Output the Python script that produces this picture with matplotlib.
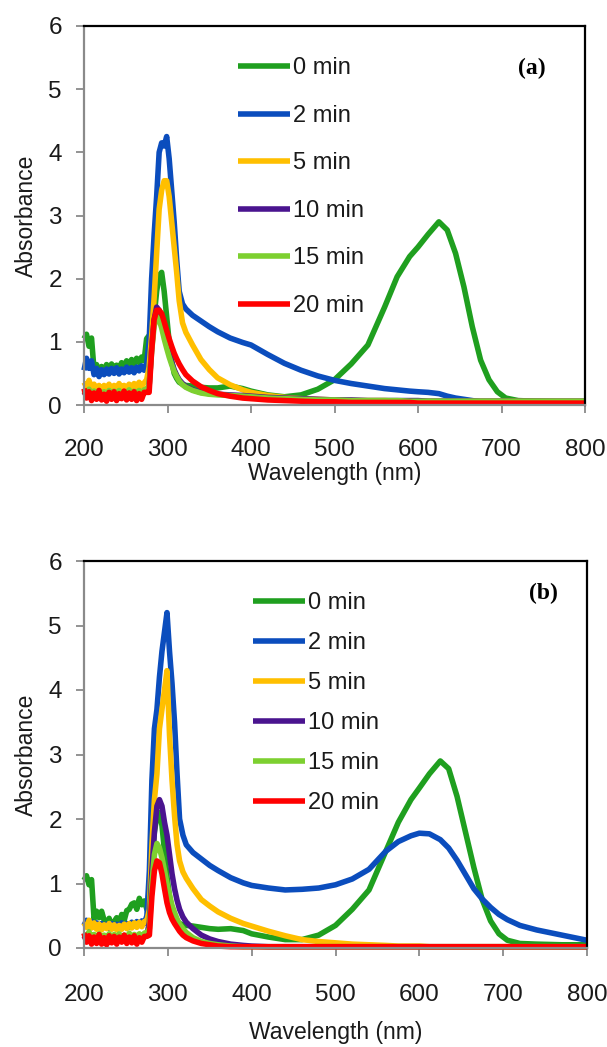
import matplotlib
matplotlib.use("Agg")
import matplotlib.pyplot as plt

# ---------------- data ----------------
wavelength = [200, 203, 206, 209, 212, 215, 218, 221, 224, 227, 230, 233, 236, 239, 242, 245,
              248, 251, 254, 257, 260, 263, 266, 269, 272, 275,
              278, 281, 284, 287, 290, 293, 296, 299, 302, 305, 308, 311, 314, 318, 322,
              330, 340, 350, 360, 375, 390, 400, 420, 440, 460, 480, 500, 520, 540, 560,
              575, 590, 600, 612, 625, 635, 645, 655, 665, 675, 685, 695, 705, 720, 740, 770, 800]

labels = ["0 min", "2 min", "5 min", "10 min", "15 min", "20 min"]
colors = ["#1f9f1f", "#0b4dbd", "#ffbf00", "#4a148f", "#7dd030", "#ff0000"]

# panel (a)
a_0min = [1.05, 1.12, 0.93, 1.06, 0.56, 0.64, 0.50, 0.61, 0.53, 0.64, 0.55, 0.65, 0.56, 0.63, 0.58, 0.67,
          0.61, 0.70, 0.62, 0.72, 0.65, 0.74, 0.67, 0.76, 0.70, 1.05,
          1.10, 1.15, 1.40, 1.80, 2.05, 2.10, 1.80, 1.40, 1.00, 0.70, 0.50, 0.42, 0.36, 0.33, 0.31,
          0.30, 0.28, 0.27, 0.27, 0.30, 0.26, 0.22, 0.16, 0.13, 0.16, 0.25, 0.40, 0.65, 0.95, 1.55,
          2.03, 2.35, 2.50, 2.70, 2.90, 2.77, 2.40, 1.87, 1.24, 0.71, 0.40, 0.21, 0.11, 0.07, 0.06, 0.05, 0.05]
a_2min = [0.55, 0.74, 0.58, 0.70, 0.48, 0.58, 0.45, 0.56, 0.48, 0.57, 0.49, 0.58, 0.50, 0.59, 0.49, 0.57,
          0.51, 0.60, 0.52, 0.59, 0.51, 0.60, 0.54, 0.62, 0.55, 0.65,
          1.00, 2.00, 2.70, 3.30, 4.00, 4.15, 4.10, 4.25, 3.90, 3.40, 2.90, 2.30, 1.80, 1.60, 1.52,
          1.42, 1.33, 1.24, 1.16, 1.06, 0.99, 0.95, 0.80, 0.66, 0.55, 0.46, 0.39, 0.34, 0.30, 0.26,
          0.24, 0.22, 0.21, 0.20, 0.18, 0.14, 0.11, 0.09, 0.07, 0.05, 0.04, 0.04, 0.03, 0.03, 0.03, 0.03, 0.03]
a_5min = [0.36, 0.29, 0.39, 0.27, 0.33, 0.24, 0.31, 0.23, 0.31, 0.25, 0.33, 0.24, 0.31, 0.26, 0.34, 0.27,
          0.31, 0.25, 0.33, 0.27, 0.34, 0.29, 0.36, 0.29, 0.35, 0.40,
          0.60, 1.10, 1.70, 2.40, 3.10, 3.40, 3.55, 3.55, 3.30, 2.90, 2.50, 2.10, 1.65, 1.30, 1.15,
          0.95, 0.72, 0.56, 0.43, 0.32, 0.24, 0.20, 0.15, 0.12, 0.10, 0.09, 0.08, 0.07, 0.07, 0.07,
          0.06, 0.06, 0.06, 0.06, 0.06, 0.06, 0.06, 0.06, 0.06, 0.06, 0.06, 0.06, 0.06, 0.06, 0.06, 0.06, 0.06]
a_10min = [0.21, 0.15, 0.23, 0.14, 0.20, 0.13, 0.21, 0.14, 0.19, 0.12, 0.21, 0.15, 0.20, 0.13, 0.21, 0.14,
           0.19, 0.15, 0.22, 0.14, 0.20, 0.16, 0.21, 0.15, 0.22, 0.22,
           0.30, 0.90, 1.35, 1.55, 1.50, 1.35, 1.15, 0.98, 0.82, 0.68, 0.56, 0.47, 0.40, 0.34, 0.29,
           0.24, 0.20, 0.18, 0.17, 0.16, 0.15, 0.14, 0.12, 0.11, 0.10, 0.09, 0.08, 0.08, 0.07, 0.07,
           0.07, 0.07, 0.07, 0.06, 0.06, 0.06, 0.06, 0.06, 0.06, 0.06, 0.06, 0.06, 0.06, 0.06, 0.06, 0.06, 0.06]
a_15min = [0.23, 0.17, 0.25, 0.16, 0.22, 0.15, 0.23, 0.16, 0.21, 0.14, 0.23, 0.17, 0.22, 0.15, 0.23, 0.16,
           0.21, 0.17, 0.24, 0.16, 0.22, 0.18, 0.23, 0.17, 0.24, 0.25,
           0.30, 0.85, 1.25, 1.40, 1.35, 1.22, 1.05, 0.90, 0.76, 0.64, 0.53, 0.45, 0.38, 0.32, 0.28,
           0.23, 0.19, 0.17, 0.16, 0.15, 0.14, 0.13, 0.11, 0.10, 0.09, 0.08, 0.08, 0.07, 0.07, 0.07,
           0.07, 0.06, 0.06, 0.06, 0.06, 0.06, 0.06, 0.06, 0.06, 0.06, 0.06, 0.06, 0.06, 0.06, 0.06, 0.06, 0.06]
a_20min = [0.26, 0.11, 0.21, 0.07, 0.19, 0.09, 0.23, 0.08, 0.17, 0.06, 0.20, 0.09, 0.21, 0.07, 0.18, 0.10,
           0.22, 0.08, 0.19, 0.09, 0.21, 0.07, 0.18, 0.09, 0.20, 0.20,
           0.20, 0.85, 1.35, 1.50, 1.50, 1.45, 1.32, 1.18, 1.05, 0.93, 0.82, 0.73, 0.65, 0.56, 0.48,
           0.38, 0.29, 0.23, 0.18, 0.14, 0.11, 0.10, 0.08, 0.07, 0.06, 0.05, 0.05, 0.04, 0.04, 0.04,
           0.04, 0.04, 0.03, 0.03, 0.03, 0.03, 0.03, 0.03, 0.03, 0.03, 0.03, 0.03, 0.03, 0.03, 0.03, 0.03, 0.03]

# panel (b)
b_0min = [1.05, 1.12, 0.98, 1.06, 0.45, 0.57, 0.47, 0.57, 0.43, 0.38, 0.46, 0.32, 0.41, 0.47, 0.37, 0.52,
          0.43, 0.58, 0.60, 0.68, 0.70, 0.60, 0.77, 0.67, 0.73, 0.60,
          0.90, 1.40, 1.80, 2.05, 2.10, 1.90, 1.50, 1.10, 0.80, 0.60, 0.48, 0.42, 0.38, 0.36, 0.35,
          0.34, 0.32, 0.30, 0.29, 0.30, 0.27, 0.22, 0.17, 0.13, 0.13, 0.20, 0.35, 0.60, 0.90, 1.50,
          1.95, 2.30, 2.48, 2.70, 2.90, 2.78, 2.35, 1.80, 1.25, 0.75, 0.42, 0.22, 0.12, 0.07, 0.06, 0.05, 0.05]
b_2min = [0.35, 0.43, 0.32, 0.41, 0.33, 0.39, 0.31, 0.38, 0.32, 0.37, 0.30, 0.38, 0.32, 0.37, 0.31, 0.39,
          0.33, 0.38, 0.32, 0.40, 0.34, 0.41, 0.35, 0.42, 0.38, 0.50,
          1.20, 2.60, 3.40, 3.70, 4.20, 4.60, 4.90, 5.20, 4.60, 4.10, 3.50, 2.70, 2.00, 1.75, 1.60,
          1.48, 1.38, 1.28, 1.20, 1.09, 1.01, 0.97, 0.93, 0.90, 0.91, 0.93, 0.98, 1.07, 1.22, 1.50,
          1.65, 1.74, 1.78, 1.77, 1.68, 1.55, 1.36, 1.14, 0.92, 0.76, 0.63, 0.52, 0.44, 0.35, 0.28, 0.20, 0.12]
b_5min = [0.39, 0.32, 0.43, 0.31, 0.39, 0.29, 0.37, 0.28, 0.36, 0.30, 0.38, 0.29, 0.36, 0.28, 0.35, 0.29,
          0.37, 0.30, 0.38, 0.31, 0.39, 0.32, 0.40, 0.33, 0.41, 0.42,
          0.60, 1.60, 2.30, 2.70, 3.40, 3.70, 4.00, 4.30, 3.30, 2.60, 2.05, 1.60, 1.35, 1.18, 1.08,
          0.92, 0.75, 0.65, 0.56, 0.46, 0.38, 0.34, 0.26, 0.19, 0.13, 0.10, 0.08, 0.06, 0.05, 0.04,
          0.03, 0.03, 0.03, 0.02, 0.02, 0.02, 0.02, 0.02, 0.02, 0.02, 0.02, 0.02, 0.02, 0.02, 0.02, 0.02, 0.02]
b_10min = [0.19, 0.12, 0.21, 0.11, 0.17, 0.10, 0.18, 0.11, 0.16, 0.09, 0.18, 0.11, 0.17, 0.10, 0.18, 0.11,
           0.17, 0.12, 0.19, 0.11, 0.18, 0.13, 0.19, 0.12, 0.20, 0.20,
           0.40, 1.20, 1.80, 2.20, 2.30, 2.20, 1.95, 1.75, 1.45, 1.15, 0.92, 0.74, 0.60, 0.48, 0.40,
           0.30, 0.20, 0.14, 0.10, 0.06, 0.04, 0.03, 0.02, 0.02, 0.02, 0.02, 0.02, 0.02, 0.02, 0.02,
           0.02, 0.02, 0.02, 0.02, 0.02, 0.02, 0.02, 0.02, 0.02, 0.02, 0.02, 0.02, 0.02, 0.02, 0.02, 0.02, 0.02]
b_15min = [0.23, 0.16, 0.25, 0.15, 0.21, 0.14, 0.22, 0.15, 0.20, 0.13, 0.22, 0.16, 0.21, 0.14, 0.22, 0.15,
           0.20, 0.16, 0.23, 0.15, 0.21, 0.17, 0.22, 0.16, 0.23, 0.24,
           0.30, 1.00, 1.45, 1.62, 1.55, 1.40, 1.20, 1.00, 0.82, 0.66, 0.55, 0.45, 0.37, 0.30, 0.24,
           0.16, 0.10, 0.07, 0.05, 0.03, 0.02, 0.02, 0.02, 0.02, 0.02, 0.02, 0.02, 0.02, 0.02, 0.02,
           0.02, 0.02, 0.02, 0.02, 0.02, 0.02, 0.02, 0.02, 0.02, 0.02, 0.02, 0.02, 0.02, 0.02, 0.02, 0.02, 0.02]
b_20min = [0.23, 0.09, 0.19, 0.06, 0.17, 0.07, 0.21, 0.06, 0.16, 0.05, 0.19, 0.08, 0.18, 0.06, 0.17, 0.09,
           0.20, 0.07, 0.17, 0.08, 0.19, 0.06, 0.16, 0.09, 0.18, 0.18,
           0.20, 0.80, 1.20, 1.35, 1.32, 1.15, 0.92, 0.70, 0.55, 0.45, 0.38, 0.32, 0.26, 0.20, 0.16,
           0.11, 0.07, 0.05, 0.03, 0.02, 0.02, 0.02, 0.02, 0.02, 0.02, 0.02, 0.02, 0.02, 0.02, 0.02,
           0.02, 0.02, 0.02, 0.02, 0.02, 0.02, 0.02, 0.02, 0.02, 0.02, 0.02, 0.02, 0.02, 0.02, 0.02, 0.02, 0.02]

panel_a = [a_0min, a_2min, a_5min, a_10min, a_15min, a_20min]
panel_b = [b_0min, b_2min, b_5min, b_10min, b_15min, b_20min]

xticks = [200, 300, 400, 500, 600, 700, 800]
yticks = [0, 1, 2, 3, 4, 5, 6]

# ---------------- style ----------------
SANS = ["Liberation Sans", "DejaVu Sans"]
plt.rcParams["font.family"] = SANS

W, H = 607, 1047
fig = plt.figure(figsize=(W / 100, H / 100), dpi=100)
ax1 = fig.add_axes([84 / W, 1 - 405 / H, 501 / W, 379 / H])
ax2 = fig.add_axes([84 / W, 1 - 948 / H, 503 / W, 387 / H])

GRAY = "#8a8a8a"
TXT = "#1a1a1a"


def style(ax, panel, tag, tagxy, legxy, spacing, xpad, xlabelpad):
    for series, lab, col in zip(panel, labels, colors):
        ax.plot(wavelength, series, color=col, lw=4.0, label=lab,
                solid_capstyle="butt", solid_joinstyle="round", clip_on=False)
    ax.set_xlim(200, 800)
    ax.set_ylim(0, 6)
    ax.set_xticks(xticks)
    ax.set_yticks(yticks)
    for s in ("left", "bottom"):
        ax.spines[s].set_color(GRAY)
        ax.spines[s].set_linewidth(1.6)
    for s in ("top", "right"):
        ax.spines[s].set_color("black")
        ax.spines[s].set_linewidth(1.6)
    ax.tick_params(axis="x", direction="out", length=6, width=1.3, color=GRAY,
                   labelsize=17.5, pad=xpad, labelcolor=TXT)
    ax.tick_params(axis="y", direction="out", length=6, width=1.3, color=GRAY,
                   labelsize=17.5, pad=10, labelcolor=TXT)
    ax.set_ylabel("Absorbance", fontsize=16.5, labelpad=7, color=TXT)
    ax.set_xlabel("Wavelength (nm)", fontsize=16.5, labelpad=xlabelpad, color=TXT)
    ax.text(tagxy[0], tagxy[1], tag, transform=ax.transAxes, ha="center", va="center",
            fontsize=17, fontweight="bold", family=["Liberation Serif", "DejaVu Serif"])
    leg = ax.legend(loc="upper left", bbox_to_anchor=legxy, frameon=False, fontsize=17,
                    handlelength=2.2, handletextpad=0.12, labelspacing=spacing,
                    borderpad=0, borderaxespad=0)
    for t in leg.get_texts():
        t.set_color(TXT)


style(ax1, panel_a, "(a)", (0.894, 0.889), (0.307, 0.9175), 1.08, 18.5, 0.5)
style(ax2, panel_b, "(b)", (0.9125, 0.915), (0.336, 0.919), 0.76, 20, 11)

fig.savefig("out.png", dpi=100)
